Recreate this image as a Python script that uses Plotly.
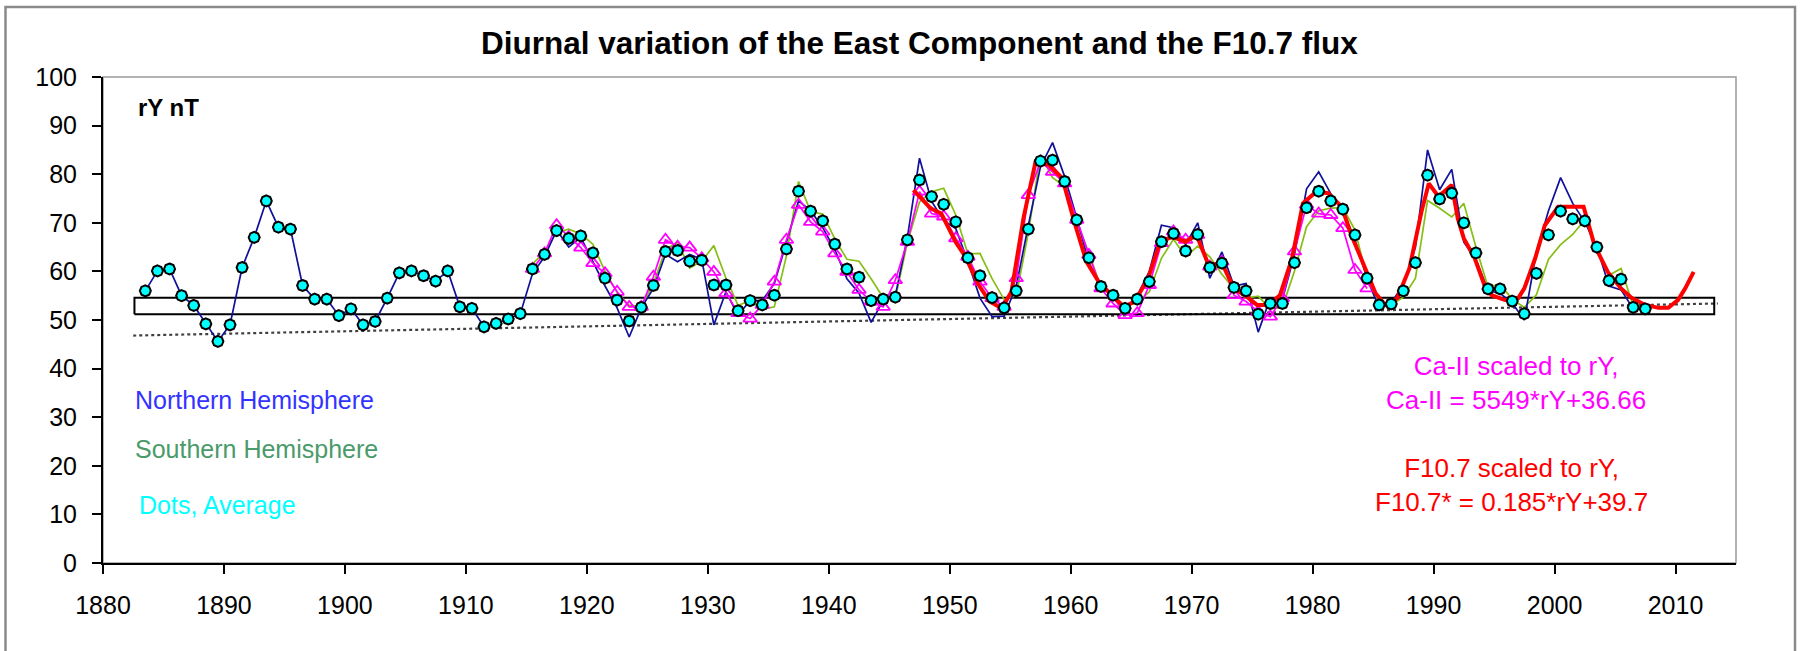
import plotly.graph_objects as go

# ---------------- data ----------------
avg_years = list(range(1883, 2008))
avg_values = [
    56.0, 60.1, 60.5, 55.0, 53.0, 49.2, 45.6, 49.0, 60.8, 67.0,   # 1883-1892
    74.5, 69.1, 68.7, 57.1, 54.3, 54.3, 50.9, 52.3, 49.0, 49.7,   # 1893-1902
    54.5, 59.7, 60.1, 59.1, 58.0, 60.1, 52.7, 52.4, 48.6, 49.3,   # 1903-1912
    50.2, 51.3, 60.5, 63.5, 68.4, 66.8, 67.3, 63.8, 58.6, 54.1,   # 1913-1922
    49.8, 52.6, 57.1, 64.1, 64.3, 62.1, 62.3, 57.2, 57.2, 51.9,   # 1923-1932
    54.0, 53.1, 55.1, 64.6, 76.5, 72.4, 70.4, 65.6, 60.5, 58.8,   # 1933-1942
    54.0, 54.3, 54.7, 66.5, 78.8, 75.4, 73.8, 70.2, 62.8, 59.1,   # 1943-1952
    54.6, 52.5, 56.0, 68.7, 82.7, 82.9, 78.5, 70.6, 62.8, 56.9,   # 1953-1962
    55.1, 52.4, 54.3, 57.9, 66.1, 67.8, 64.2, 67.6, 60.8, 61.7,   # 1963-1972
    56.7, 56.0, 51.2, 53.4, 53.4, 61.8, 73.1, 76.5, 74.5, 72.8,   # 1973-1982
    67.5, 58.6, 53.1, 53.3, 56.0, 61.8, 79.8, 74.9, 76.1, 70.0,   # 1983-1992
    63.8, 56.4, 56.4, 53.9, 51.3, 59.6, 67.5, 72.4, 70.8, 70.4,   # 1993-2002
    65.0, 58.1, 58.4, 52.6, 52.3,                                 # 2003-2007
]

north_years = list(range(1883, 2008))
north_values = [
    56.0, 60.1, 60.5, 55.0, 53.0, 49.2, 45.6, 49.0, 60.8, 67.0,
    74.5, 69.1, 68.7, 57.1, 54.3, 54.3, 50.9, 52.3, 49.0, 49.7,
    54.5, 59.7, 60.1, 59.1, 58.0, 60.1, 52.7, 52.4, 48.6, 49.3,
    50.2, 51.3, 59.5, 63.0, 68.5, 65.0, 67.0, 62.0, 57.0, 52.5,
    46.5, 52.5, 56.5, 63.5, 62.0, 63.5, 62.5, 49.0, 55.8, 51.0,
    54.0, 54.0, 57.5, 66.0, 74.5, 72.5, 69.0, 64.5, 58.5, 55.5,
    49.5, 54.0, 55.0, 67.0, 83.3, 74.4, 70.5, 68.8, 62.0, 54.5,
    50.7, 50.8, 57.0, 69.5, 81.5, 86.5, 79.5, 71.0, 61.8, 57.0,
    55.0, 52.0, 55.0, 60.0, 69.5, 69.0, 65.5, 70.0, 58.6, 64.0,
    57.0, 57.5, 47.5, 54.5, 54.2, 63.5, 77.0, 80.5, 76.0, 72.5,
    66.5, 58.5, 52.5, 53.5, 57.3, 65.0, 85.0, 76.8, 81.0, 66.0,
    62.5, 56.0, 55.5, 53.5, 50.0, 64.0, 72.5, 79.3, 74.0, 70.2,
    65.0, 57.0, 56.2, 52.3, 52.0,
]

south_years = list(range(1915, 2008))
south_values = [
    61.5, 64.0, 68.0, 68.7, 67.7, 65.6, 60.0, 55.7, 53.0, 52.8,   # 1915-1924
    57.5, 64.5, 66.0, 60.7, 62.1, 65.3, 58.6, 53.0, 54.0, 52.2,   # 1925-1934
    52.7, 63.2, 78.5, 72.3, 71.8, 66.7, 62.5, 62.1, 58.5, 54.6,   # 1935-1944
    54.4, 66.0, 74.3, 76.4, 77.1, 71.6, 63.6, 63.7, 58.5, 54.2,   # 1945-1954
    55.0, 68.0, 84.0, 79.3, 77.5, 70.2, 63.8, 56.8, 55.2, 52.8,   # 1955-1964
    53.6, 55.8, 62.7, 66.6, 63.0, 65.2, 63.0, 59.4, 56.4, 54.5,   # 1965-1974
    54.9, 52.3, 52.6, 60.1, 69.2, 72.5, 73.0, 73.1, 68.5, 58.7,   # 1975-1984
    53.7, 53.1, 54.7, 58.6, 74.6, 73.0, 71.2, 74.0, 65.0, 56.8,   # 1985-1994
    57.3, 54.3, 52.6, 55.2, 62.5, 65.5, 67.6, 70.6, 65.0, 59.2,   # 1995-2004
    60.6, 52.9, 52.6,                                             # 2005-2007
]

ca_years = list(range(1915, 1985))
ca_values = [
    60.5, 63.7, 69.5, 67.1, 64.9, 61.7, 59.6, 55.8, 52.7, 52.7,   # 1915-1924
    58.9, 66.5, 65.1, 64.9, 62.7, 59.9, 55.5, 51.4, 50.3, 53.1,   # 1925-1934
    57.9, 66.5, 73.7, 70.2, 68.2, 63.7, 59.9, 56.2, 53.8, 52.7,   # 1935-1944
    58.2, 66.1, 76.4, 71.9, 71.3, 66.8, 63.0, 57.9, 54.5, 52.7,   # 1945-1954
    58.6, 75.7, 82.6, 80.5, 78.1, 70.6, 63.4, 56.5, 53.4, 51.0,   # 1955-1964
    51.4, 57.2, 65.8, 68.2, 66.5, 67.5, 61.0, 62.0, 55.1, 53.8,   # 1965-1974
    51.7, 50.7, 54.5, 64.1, 73.7, 71.9, 71.6, 68.9, 60.3, 56.5,   # 1975-1984
]

f107_years = [
    1947.0, 1948.4, 1949.3, 1950.5, 1951.3, 1952.4, 1953.3, 1954.3, 1955.1, 1956.1,
    1957.1, 1958.2, 1959.3, 1960.3, 1961.3, 1962.3, 1963.4, 1964.4, 1965.3, 1966.4,
    1967.4, 1968.4, 1969.5, 1970.4, 1971.4, 1972.5, 1973.5, 1974.4, 1975.4, 1976.3,
    1977.3, 1978.3, 1979.2, 1980.3, 1981.3, 1982.4, 1983.2, 1984.2, 1985.2, 1986.0,
    1987.0, 1988.0, 1989.0, 1989.6, 1990.4, 1991.5, 1992.0, 1992.5, 1993.4, 1994.2,
    1994.8, 1995.9, 1997.0, 1997.5, 1998.4, 1999.2, 2000.3, 2002.4, 2003.3, 2004.4,
    2005.5, 2006.4, 2007.5, 2008.6, 2009.4, 2010.2, 2010.8, 2011.5,
]
f107_values = [
    76.7, 73.0, 71.9, 66.0, 63.0, 57.2, 53.8, 52.4, 55.8, 71.0,
    82.6, 81.9, 79.2, 70.2, 62.0, 57.9, 55.1, 52.7, 53.8, 58.6,
    66.1, 67.1, 66.1, 67.5, 61.3, 61.7, 56.5, 55.1, 53.1, 53.1,
    55.1, 62.7, 74.0, 76.4, 76.1, 73.3, 67.5, 61.3, 55.5, 53.1,
    54.5, 60.6, 72.3, 78.1, 75.4, 77.8, 70.9, 66.8, 62.7, 57.2,
    55.1, 54.1, 54.5, 56.5, 62.7, 69.5, 73.3, 73.3, 65.4, 59.9,
    56.5, 54.5, 53.1, 52.5, 52.5, 54.1, 56.5, 59.9,
]

trend_years = [1882.5, 2013.5]
trend_values = [46.8, 53.4]

band_years = [1882.6, 2013.2]
band_values = [51.2, 54.6]

x_ticks = list(range(1880, 2011, 10))
y_ticks = list(range(0, 101, 10))

# ---------------- layout geometry ----------------
W, H = 1800, 651
ML, MR, MT, MB = 103, 64, 77, 88
PW, PH = W - ML - MR, H - MT - MB


def px_x(px):
    return (px - ML) / PW


def px_y(py):
    return (H - MB - py) / PH


FONT = "Liberation Sans, Arial, sans-serif"
mid = lambda ys: [y + 0.5 for y in ys]

fig = go.Figure()

# dotted trend line
fig.add_trace(go.Scatter(
    x=trend_years, y=trend_values, mode="lines",
    line=dict(color="#404040", width=2.2, dash="dot"), hoverinfo="skip"))

# band rectangle (closed outline built from the band arrays)
fig.add_trace(go.Scatter(
    x=[band_years[0], band_years[1], band_years[1], band_years[0], band_years[0]],
    y=[band_values[0], band_values[0], band_values[1], band_values[1], band_values[0]],
    mode="lines", line=dict(color="black", width=2), hoverinfo="skip"))

# Southern hemisphere
fig.add_trace(go.Scatter(
    x=mid(south_years), y=south_values, mode="lines",
    line=dict(color="#86BF14", width=1.7), name="Southern"))

# Northern hemisphere
fig.add_trace(go.Scatter(
    x=mid(north_years), y=north_values, mode="lines",
    line=dict(color="#10109A", width=1.7), name="Northern"))

# Ca-II scaled
fig.add_trace(go.Scatter(
    x=mid(ca_years), y=ca_values, mode="lines+markers",
    line=dict(color="#FF00FF", width=1.7),
    marker=dict(symbol="triangle-up-open", size=12, color="#FF00FF",
                line=dict(width=1.8, color="#FF00FF")),
    name="Ca-II"))

# F10.7 scaled
fig.add_trace(go.Scatter(
    x=f107_years, y=f107_values, mode="lines",
    line=dict(color="#FF0000", width=4), name="F10.7"))

# Average dots
fig.add_trace(go.Scatter(
    x=mid(avg_years), y=avg_values, mode="markers",
    marker=dict(symbol="octagon", angle=22.5, size=11, color="#00FFFF",
                line=dict(color="black", width=2)),
    name="Average"))

annotations = [
    dict(text="<b>Diurnal variation of the East Component and the F10.7 flux</b>",
         xref="paper", yref="paper", x=px_x(920), y=px_y(43),
         xanchor="center", yanchor="middle", showarrow=False,
         font=dict(family=FONT, size=31.5, color="black")),
    dict(text="<b>rY nT</b>", xref="x", yref="y", x=1882.7, y=93.8,
         xanchor="left", yanchor="middle", showarrow=False,
         font=dict(family=FONT, size=24, color="black")),
    dict(text="Northern Hemisphere", xref="x", yref="y", x=1882.5, y=33.5,
         xanchor="left", yanchor="middle", showarrow=False,
         font=dict(family=FONT, size=25, color="#3333FF")),
    dict(text="Southern Hemisphere", xref="x", yref="y", x=1882.5, y=23.5,
         xanchor="left", yanchor="middle", showarrow=False,
         font=dict(family=FONT, size=25, color="#4A9A6A")),
    dict(text="Dots, Average", xref="x", yref="y", x=1882.8, y=11.9,
         xanchor="left", yanchor="middle", showarrow=False,
         font=dict(family=FONT, size=25, color="#00FFFF")),
    dict(text="Ca-II scaled to rY,<br>Ca-II = 5549*rY+36.66", xref="x", yref="y",
         x=1996.8, y=37.0, xanchor="center", yanchor="middle", showarrow=False,
         align="center", font=dict(family=FONT, size=26, color="#FF00FF")),
    dict(text="F10.7 scaled to rY,<br>F10.7* = 0.185*rY+39.7", xref="x", yref="y",
         x=1996.4, y=16.05, xanchor="center", yanchor="middle", showarrow=False,
         align="center", font=dict(family=FONT, size=26, color="#FF0000")),
]

shapes = [
    # outer chart frame
    dict(type="rect", xref="paper", yref="paper",
         x0=px_x(5.5), x1=px_x(1795), y0=px_y(660), y1=px_y(7),
         line=dict(color="#8a8a8a", width=2.5), layer="below"),
    # plot area frame (grey top / right)
    dict(type="rect", xref="x domain", yref="y domain", x0=0, x1=1, y0=0, y1=1,
         line=dict(color="#9a9a9a", width=1.5), layer="below"),
]

fig.update_layout(
    width=W, height=H,
    margin=dict(l=ML, r=MR, t=MT, b=MB, pad=0),
    paper_bgcolor="white", plot_bgcolor="white",
    showlegend=False,
    annotations=annotations,
    shapes=shapes,
    font=dict(family=FONT, size=25, color="black"),
)
fig.update_xaxes(
    range=[1880, 2015], tickvals=x_ticks, ticktext=[str(v) for v in x_ticks],
    showgrid=False, zeroline=False, showline=True, linecolor="black", linewidth=2,
    ticks="outside", ticklen=9, tickwidth=2, tickcolor="black",
    tickfont=dict(family=FONT, size=25, color="black"), ticklabelstandoff=10)
fig.update_yaxes(
    range=[0, 100], tickvals=y_ticks, ticktext=[str(v) for v in y_ticks],
    showgrid=False, zeroline=False, showline=True, linecolor="black", linewidth=2,
    ticks="outside", ticklen=9, tickwidth=2, tickcolor="black",
    tickfont=dict(family=FONT, size=25, color="black"), ticklabelstandoff=10)

# remove the browser's default page margin so the figure sits at the window origin
fig.write_html("out.html",
               config={"displayModeBar": False},
               post_script="document.body.style.margin='0px'; document.body.style.overflow='hidden';")
